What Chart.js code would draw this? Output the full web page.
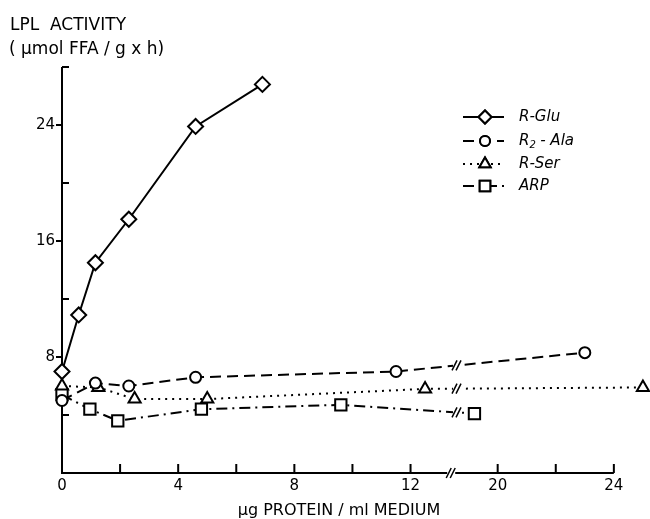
<!DOCTYPE html>
<html>
<head>
<meta charset="utf-8">
<script src="https://cdn.jsdelivr.net/npm/chart.js@4/dist/chart.umd.min.js"></script>
<style>
html, body {margin:0; padding:0; background:#fff}
#wrap {width:650px; height:519px}
</style>
</head>
<body>
<div id="wrap"><canvas id="c"></canvas></div>
<script>
// data (x = ug protein / ml, y = umol FFA / g x h)
var series_names = ['R-Glu', 'R2-Ala', 'R-Ser', 'ARP']
var glu_x = [0, 0.575, 1.15, 2.3, 4.6, 6.9]
var glu_y = [7.0, 10.9, 14.5, 17.5, 23.9, 26.8]
var ala_x = [0, 1.15, 2.3, 4.6, 11.5, 23]
var ala_y = [5.0, 6.2, 6.0, 6.6, 7.0, 8.3]
var ser_x = [0, 1.25, 2.5, 5.0, 12.5, 25]
var ser_y = [6.0, 5.9, 5.1, 5.1, 5.8, 5.9]
var arp_x = [0, 0.96, 1.92, 4.8, 9.6, 19.2]
var arp_y = [5.4, 4.4, 3.6, 4.4, 4.7, 4.1]

var x_ticks = [2, 4, 6, 8, 10, 12, 20, 22, 24]
var x_labels = [0, 4, 8, 12, 20, 24]
var y_ticks = [4, 8, 12, 16, 20, 24, 28]
var y_labels = [8, 16, 24]

// broken x axis: 13.5..18.5 is cut out
var BREAK_AT = 13.5
var BREAK_GAP = 5
function to_axis(x){ return x > BREAK_AT ? x - BREAK_GAP : x }
function from_axis(v){ return v > BREAK_AT ? v + BREAK_GAP : v }

function pts(xs, ys){
    return xs.map(function(x, i){ return {x: to_axis(x), y: ys[i]} })
}

var FONT = '"DejaVu Sans", sans-serif'

function make_set(label, xs, ys, dash, style, radius){
    return {
        label: label,
        data: pts(xs, ys),
        borderColor: '#000',
        borderWidth: 2,
        borderDash: dash,
        tension: 0,
        pointStyle: style,
        pointRadius: radius,
        pointBackgroundColor: '#fff',
        pointBorderColor: '#000',
        pointBorderWidth: 2,
        clip: false
    }
}

var sets = [
    make_set(series_names[0], glu_x, glu_y, [], 'rectRot', 7.5),
    make_set(series_names[1], ala_x, ala_y, [11, 6], 'circle', 5.5),
    make_set(series_names[2], ser_x, ser_y, [2, 5], 'triangle', 7),
    make_set(series_names[3], arp_x, arp_y, [11, 5, 2, 5], 'rect', 8)
]

function slash_mark(ctx, x, y, gap){
    ctx.save()
    ctx.fillStyle = '#fff'
    ctx.fillRect(x - gap, y - 4, gap * 2, 8)
    ctx.strokeStyle = '#000'
    ctx.lineWidth = 1.5
    ctx.setLineDash([])
    ctx.beginPath()
    ctx.moveTo(x - 5, y + 5); ctx.lineTo(x, y - 5)
    ctx.moveTo(x - 1, y + 5); ctx.lineTo(x + 4, y - 5)
    ctx.stroke()
    ctx.restore()
}

var decor = {
    id: 'decor',
    beforeDatasetsDraw: function(chart){
        var ctx = chart.ctx, xs = chart.scales.x, ys = chart.scales.y
        var x0 = xs.getPixelForValue(0), y0 = ys.getPixelForValue(0)
        var xend = xs.getPixelForValue(to_axis(24)), ytop = ys.getPixelForValue(28)
        ctx.save()
        ctx.strokeStyle = '#000'
        ctx.lineWidth = 2
        ctx.beginPath()
        ctx.moveTo(x0, ytop); ctx.lineTo(x0, y0); ctx.lineTo(xend, y0)
        // y ticks: labelled ones outside, others inside
        y_ticks.forEach(function(v){
            var py = ys.getPixelForValue(v)
            if (y_labels.indexOf(v) >= 0){ ctx.moveTo(x0 - 6, py); ctx.lineTo(x0, py) }
            else { ctx.moveTo(x0, py); ctx.lineTo(x0 + 7, py) }
        })
        x_ticks.forEach(function(v){
            var px = xs.getPixelForValue(to_axis(v))
            ctx.moveTo(px, y0); ctx.lineTo(px, y0 - 9)
        })
        ctx.stroke()
        ctx.restore()
        slash_mark(ctx, xs.getPixelForValue(BREAK_AT - 0.1), y0, 4)
    },
    afterDatasetsDraw: function(chart){
        var ctx = chart.ctx, xs = chart.scales.x, ys = chart.scales.y
        // break marks where the lines cross the cut
        var cut = BREAK_AT + 0.1
        chart.data.datasets.forEach(function(ds){
            var d = ds.data
            for (var i = 1; i < d.length; i++){
                if (d[i-1].x < cut && d[i].x > cut){
                    var t = (cut - d[i-1].x) / (d[i].x - d[i-1].x)
                    var yv = d[i-1].y + t * (d[i].y - d[i-1].y)
                    slash_mark(ctx, xs.getPixelForValue(cut), ys.getPixelForValue(yv), 4)
                }
            }
        })

        // legend
        ctx.save()
        var rows = [117, 141, 164, 186]
        var radii = [6.5, 5, 6.5, 7.5]
        chart.data.datasets.forEach(function(ds, i){
            var ry = rows[i]
            ctx.strokeStyle = '#000'
            ctx.lineWidth = 2
            ctx.setLineDash(ds.borderDash)
            ctx.beginPath(); ctx.moveTo(463, ry); ctx.lineTo(504, ry); ctx.stroke()
            ctx.setLineDash([])
            ctx.fillStyle = '#fff'
            Chart.helpers.drawPoint(ctx, {pointStyle: ds.pointStyle, radius: radii[i], borderWidth: 2}, 485, ry)
            ctx.fill(); ctx.stroke()
            ctx.fillStyle = '#000'
            ctx.textBaseline = 'middle'
            ctx.textAlign = 'left'
            ctx.font = 'italic 15px ' + FONT
            if (ds.label === 'R2-Ala'){
                ctx.fillText('R', 519, ry)
                var w = ctx.measureText('R').width
                ctx.font = 'italic 10px ' + FONT
                ctx.fillText('2', 519 + w, ry + 4)
                ctx.font = 'italic 15px ' + FONT
                ctx.fillText(' - Ala', 519 + w + 6, ry)
            } else {
                ctx.fillText(ds.label, 519, ry)
            }
        })

        // axis titles
        ctx.fillStyle = '#000'
        ctx.textAlign = 'left'
        ctx.textBaseline = 'alphabetic'
        ctx.font = '17px ' + FONT
        ctx.fillText('LPL  ACTIVITY', 10, 30)
        ctx.fillText('( \u00b5mol FFA / g x h)', 9, 54)
        ctx.textAlign = 'center'
        ctx.font = '16px ' + FONT
        ctx.fillText('\u00b5g PROTEIN / ml MEDIUM', 339, 515)
        ctx.restore()
    }
}

new Chart(document.getElementById('c').getContext('2d'), {
    type: 'line',
    data: {datasets: sets},
    options: {
        responsive: true,
        maintainAspectRatio: false,
        animation: false,
        layout: {autoPadding: false, padding: {top: 67, right: 10, left: 0, bottom: 0}},
        plugins: {legend: {display: false}, tooltip: {enabled: false}},
        scales: {
            x: {
                type: 'linear',
                min: 0,
                max: 19.9,
                grid: {display: false, drawTicks: false},
                border: {display: false},
                afterFit: function(s){ s.height = 46 },
                afterBuildTicks: function(s){
                    s.ticks = [0].concat(x_ticks).map(function(v){ return {value: to_axis(v)} })
                },
                ticks: {
                    autoSkip: false,
                    maxRotation: 0,
                    padding: 4,
                    color: '#000',
                    font: {family: FONT, size: 15},
                    callback: function(v){
                        var r = Math.round(from_axis(v))
                        return x_labels.indexOf(r) >= 0 ? String(r) : ''
                    }
                }
            },
            y: {
                min: 0,
                max: 28,
                grid: {display: false, drawTicks: false},
                border: {display: false},
                afterFit: function(s){ s.width = 62 },
                afterBuildTicks: function(s){
                    s.ticks = y_ticks.map(function(v){ return {value: v} })
                },
                ticks: {
                    autoSkip: false,
                    padding: 7,
                    color: '#000',
                    font: {family: FONT, size: 15},
                    callback: function(v){ return y_labels.indexOf(v) >= 0 ? String(v) : '' }
                }
            }
        }
    },
    plugins: [decor]
});
</script>
</body>
</html>
